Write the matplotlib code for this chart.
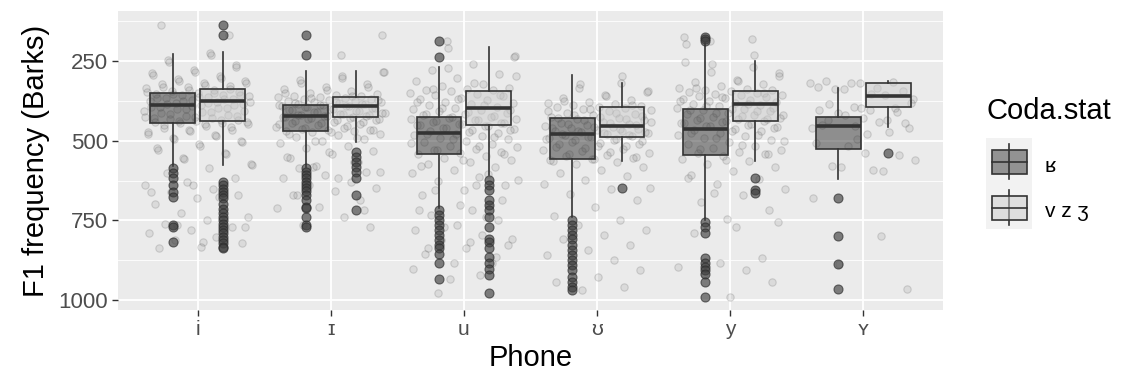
import matplotlib
matplotlib.use("Agg")
import matplotlib.pyplot as plt
from matplotlib.patches import Rectangle
from matplotlib.ticker import FixedLocator
import numpy as np

plt.rcParams['font.family'] = ['Liberation Sans', 'DejaVu Sans']

# ---------------- data ----------------
phones = ['i', 'ɪ', 'u', 'ʊ', 'y', 'ʏ']
groups = ['ʁ', 'v z ʒ']

# box statistics per phone, group ʁ
r_lo  = [229, 281, 268, 294, 194, 333]
r_q1  = [349, 388, 425, 430, 401, 425]
r_med = [389, 422, 477, 479, 464, 453]
r_q3  = [445, 470, 543, 556, 544, 525]
r_hi  = [578, 582, 712, 738, 749, 620]
# box statistics per phone, group v z ʒ
v_lo  = [223, 281, 205, 318, 249, 313]
v_q1  = [339, 363, 343, 395, 344, 320]
v_med = [375, 390, 396, 453, 385, 360]
v_q3  = [437, 425, 451, 487, 437, 395]
v_hi  = [576, 503, 608, 564, 564, 458]

# outliers
r_fliers = [
    [586, 601, 617, 639, 661, 677, 764, 771, 818],
    [168, 231, 586, 597, 607, 617, 628, 638, 649, 659, 670, 686, 707, 712, 739, 764, 770],
    [187, 236, 718, 733, 749, 765, 780, 796, 812, 828, 838, 854, 885, 934],
    [749, 765, 780, 796, 807, 828, 843, 859, 875, 890, 906, 927, 943, 958, 968],
    [175, 181, 186, 754, 770, 791, 869, 885, 896, 906, 917, 943, 989],
    [681, 799, 887, 966],
]
v_fliers = [
    [137, 168, 629, 639, 650, 660, 671, 681, 697, 713, 728, 739, 749, 760, 770, 780, 791, 801, 812, 822, 833, 838],
    [535, 550, 566, 581, 597, 618, 670, 717],
    [623, 639, 655, 686, 702, 717, 738, 770, 807, 817, 838, 864, 885, 901, 922, 978],
    [649],
    [616, 655, 665],
    [538],
]

# individual (non-outlier) observations, drawn as a jittered cloud
r_cloud = [
    [232, 252, 270, 284, 295, 304, 312, 319, 326, 332, 337, 342, 346,
     350, 354, 358, 362, 366, 370, 374, 378, 382, 385, 388, 391, 394, 398, 402, 406, 410, 414, 418, 422,
     426, 430, 433, 436, 439, 441, 443, 445,
     449, 454, 459, 465, 471, 478, 486, 495, 505, 516, 529, 543, 558, 575],
    [283, 302, 318, 331, 342, 351, 359, 366, 372, 377, 381, 384, 387,
     389, 392, 395, 398, 401, 404, 407, 410, 413, 416, 419, 421, 423, 426, 429, 432, 436, 440, 444, 448,
     452, 456, 459, 462, 465, 467, 469, 470,
     474, 478, 483, 488, 494, 500, 507, 515, 523, 532, 542, 553, 566, 580],
    [272, 298, 320, 339, 355, 368, 379, 389, 397, 404, 410, 416, 421,
     427, 431, 435, 439, 443, 447, 451, 455, 459, 463, 467, 471, 475, 478, 482, 486, 490, 495, 500, 505,
     510, 515, 520, 525, 530, 535, 539, 542,
     547, 553, 559, 566, 574, 583, 592, 602, 613, 625, 638, 653, 670, 705],
    [297, 322, 343, 361, 376, 389, 399, 407, 414, 419, 423, 426, 428,
     432, 436, 440, 444, 448, 452, 456, 460, 464, 468, 472, 476, 479, 483, 488, 493, 498, 503, 509, 515,
     521, 527, 533, 539, 544, 549, 553, 556,
     561, 567, 574, 582, 591, 601, 612, 624, 637, 651, 667, 685, 707, 735],
    [198, 230, 260, 288, 312, 333, 350, 364, 375, 384, 391, 396, 399,
     403, 408, 413, 418, 423, 428, 433, 438, 443, 448, 453, 458, 462, 466, 471, 476, 481, 486, 492, 498,
     504, 510, 516, 522, 528, 534, 539, 543,
     549, 556, 564, 573, 583, 594, 606, 620, 635, 652, 671, 692, 716, 745],
    [318, 331, 357, 339, 381, 404, 435, 398, 393, 461, 440, 414, 445, 430, 450, 473, 517, 561, 592,
     579, 545, 496, 508, 594, 582, 460, 480],
]
v_cloud = [
    [226, 246, 263, 277, 288, 297, 305, 312, 318, 323, 328, 332, 336,
     340, 343, 346, 349, 352, 355, 358, 361, 364, 367, 370, 373, 375, 378, 381, 385, 389, 393, 397, 401,
     406, 411, 416, 421, 426, 430, 434, 437,
     441, 446, 452, 458, 465, 473, 481, 490, 500, 511, 523, 537, 553, 572],
    [283, 298, 311, 322, 331, 338, 344, 349, 353, 356, 359, 361, 362,
     364, 366, 368, 370, 372, 374, 376, 378, 380, 382, 384, 386, 388, 390, 392, 394, 397, 400, 403, 406,
     409, 412, 415, 418, 420, 422, 424, 425,
     428, 431, 434, 437, 441, 445, 449, 454, 459, 465, 472, 480, 490, 501],
    [208, 235, 258, 277, 292, 304, 314, 322, 328, 333, 337, 340, 342,
     345, 349, 353, 357, 361, 365, 369, 373, 377, 381, 385, 389, 393, 396, 400, 404, 408, 412, 416, 420,
     424, 428, 432, 436, 440, 444, 448, 451,
     455, 460, 466, 472, 479, 487, 496, 506, 517, 529, 543, 560, 580, 604],
    [320, 335, 348, 358, 366, 373, 378, 382, 386, 389, 391, 393, 394,
     397, 400, 404, 408, 412, 416, 420, 424, 428, 432, 436, 440, 444, 448, 451, 453, 456, 459, 462, 465,
     468, 471, 474, 477, 480, 483, 485, 487,
     490, 493, 497, 501, 506, 511, 516, 522, 528, 535, 542, 550, 557, 563],
    [252, 270, 285, 298, 308, 316, 323, 329, 334, 337, 340, 342, 343,
     346, 349, 352, 355, 358, 361, 364, 367, 370, 373, 376, 379, 382, 385, 388, 392, 396, 400, 404, 408,
     412, 416, 420, 424, 428, 431, 434, 437,
     441, 445, 450, 455, 461, 468, 475, 483, 492, 502, 513, 526, 541, 561],
    [314, 315, 318, 320, 333, 338, 345, 397, 404, 435, 420, 370, 352, 386, 410, 455],
]

yticks = [250, 500, 750, 1000]
yminor = [125, 375, 625, 875]

# ---------------- style ----------------
BG = '#EBEBEB'
LINE = '#333333'
FILL_R = (0.2, 0.2, 0.2, 0.5)
FILL_V = (0.8, 0.8, 0.8, 0.5)
DODGE = 0.1875
BOXW = 0.3375

W, H = 1125, 389
fig = plt.figure(figsize=(W / 100, H / 100), dpi=100)
ax = fig.add_axes([118 / W, 1 - 310 / H, (943 - 118) / W, (310 - 11) / H])
ax.set_facecolor(BG)
for s in ax.spines.values():
    s.set_visible(False)

# jittered cloud (deterministic golden-ratio jitter within each phone)
phi = 0.6180339887
for k in range(len(phones)):
    vals = np.array(r_cloud[k] + v_cloud[k] + r_fliers[k] + v_fliers[k], dtype=float)
    n = np.arange(len(vals))
    off = (((n + 1) * phi + 0.37 * k) % 1.0 - 0.5) * 0.82
    ax.scatter(k + 1 + off, vals, s=28, facecolor=(0.4, 0.4, 0.4, 0.12),
               edgecolor=(0.3, 0.3, 0.3, 0.2), linewidths=0.8, zorder=2)

def stats(lo, q1, med, q3, hi, fl):
    return [dict(whislo=lo[i], q1=q1[i], med=med[i], q3=q3[i], whishi=hi[i], fliers=fl[i])
            for i in range(len(phones))]

common = dict(widths=BOXW, patch_artist=True, showcaps=False, manage_ticks=False, zorder=3,
              whiskerprops=dict(color=LINE, linewidth=1.2),
              medianprops=dict(color=LINE, linewidth=2.6),
              flierprops=dict(marker='o', markerfacecolor='#3f3f3f', markeredgecolor='#2a2a2a',
                              markersize=6.5, alpha=0.65, markeredgewidth=0.8))
pos = np.arange(1, len(phones) + 1)
ax.bxp(stats(r_lo, r_q1, r_med, r_q3, r_hi, r_fliers), positions=pos - DODGE,
       boxprops=dict(facecolor=FILL_R, edgecolor=LINE, linewidth=1.2), **common)
ax.bxp(stats(v_lo, v_q1, v_med, v_q3, v_hi, v_fliers), positions=pos + DODGE,
       boxprops=dict(facecolor=FILL_V, edgecolor=LINE, linewidth=1.2), **common)

ax.set_xlim(0.4, 6.6)
ax.set_ylim(1031, 93)
ax.set_xticks(pos)
ax.set_xticklabels(phones, fontsize=15, color='#4D4D4D')
ax.set_yticks(yticks)
ax.set_yticklabels([str(t) for t in yticks], fontsize=16, color='#4D4D4D')
ax.yaxis.set_minor_locator(FixedLocator(yminor))
ax.tick_params(which='major', length=4, width=1.0, color=LINE, pad=3)
ax.tick_params(which='minor', length=0)
ax.set_axisbelow(True)
ax.grid(which='major', color='white', linewidth=1.3)
ax.grid(which='minor', axis='y', color='white', linewidth=0.6)
ax.set_xlabel('Phone', fontsize=21, labelpad=4)
ax.set_ylabel('F1 frequency (Barks)', fontsize=21, labelpad=6)

# ---------------- legend ----------------
lax = fig.add_axes([986 / W, 1 - 229 / H, 46 / W, 91 / H])
lax.set_xlim(0, 46)
lax.set_ylim(91, 0)
lax.axis('off')
lax.add_patch(Rectangle((0, 0), 46, 91, facecolor='#F2F2F2', edgecolor='none'))
for j, (fc, top) in enumerate([(FILL_R, 12), (FILL_V, 58)]):
    lax.plot([23, 23], [top - 6, top + 29], color=LINE, lw=1.2)
    lax.add_patch(Rectangle((6, top), 35, 24, facecolor=fc, edgecolor=LINE, lw=1.2, zorder=3))
    lax.plot([6, 41], [top + 12, top + 12], color=LINE, lw=1.2, zorder=4)
fig.text(987 / W, 1 - 111 / H, 'Coda.stat', fontsize=21, ha='left', va='center')
fig.text(1045 / W, 1 - 167 / H, groups[0], fontsize=15, ha='left', va='center')
fig.text(1045 / W, 1 - 212 / H, groups[1], fontsize=15, ha='left', va='center')

fig.savefig('out.png', dpi=100)
